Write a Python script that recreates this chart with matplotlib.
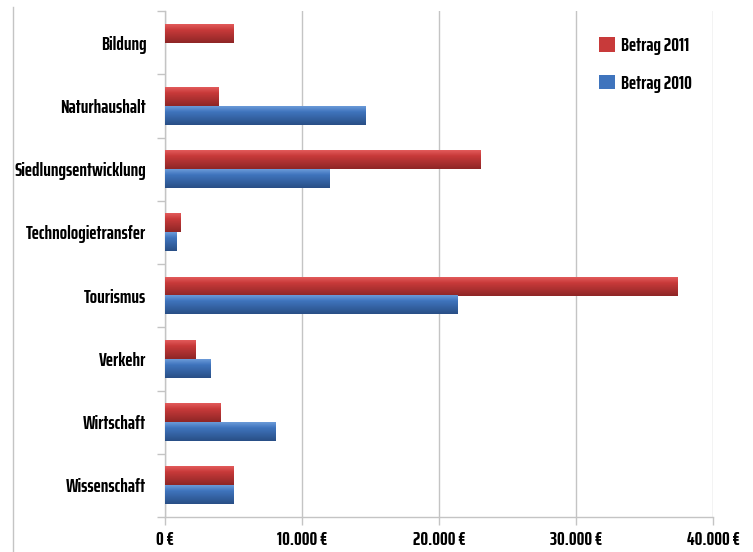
import numpy as np
from matplotlib import pyplot as plt
from matplotlib import font_manager
from matplotlib.ft2font import FT2Font
from matplotlib.font_manager import FontProperties
from matplotlib.lines import Line2D
from matplotlib.patches import Patch
from matplotlib.colors import to_rgb

categories = ["Bildung", "Naturhaushalt", "Siedlungsentwicklung", "Technologietransfer",
              "Tourismus", "Verkehr", "Wirtschaft", "Wissenschaft"]
betrag_2011 = [5000, 3900, 23000, 1100, 37400, 2200, 4050, 5000]
betrag_2010 = [0, 14650, 12000, 850, 21350, 3350, 8050, 5000]
x_ticks = [0, 10000, 20000, 30000, 40000]
series_labels = ["Betrag 2011", "Betrag 2010"]

GRID = "#c4c4c4"

# light top, base, dark bottom for the glossy look
RED = ["#e25a5a", "#c83a3a", "#8e2626"]
BLUE = ["#6a9ad8", "#3f74bd", "#294f86"]

tick_labels = [f"{v:,.0f} €".replace(",", ".") for v in x_ticks]
needed = set("".join(categories + tick_labels + series_labels)) - {" "}

fig = plt.figure(figsize=(7.53, 5.52), dpi=100)
renderer = fig.canvas.get_renderer()


def text_width(fp, s="Siedlungsentwicklung", size=10):
    t = fig.text(0, 0, s, fontproperties=fp, fontsize=size)
    w = t.get_window_extent(renderer).width
    t.remove()
    return w


def usable(fname):
    """Proportional face that has every glyph we draw."""
    try:
        font = FT2Font(fname)
        cmap = font.get_charmap()
    except Exception:
        return False
    if not all(ord(c) in cmap for c in needed):
        return False
    fp = FontProperties(fname=fname)
    return abs(text_width(fp, "iiii") - text_width(fp, "WWWW")) > 1


def pick_font():
    """Pick the narrowest bold condensed sans; fall back to DejaVu Sans bold."""
    best = FontProperties(family="DejaVu Sans", weight="bold")
    best_w = text_width(best)
    for f in font_manager.fontManager.ttflist:
        name = f.name.lower()
        cond = ("narrow" in name or "condensed" in name
                or str(f.stretch) in ("condensed", "semi-condensed",
                                      "extra-condensed", "ultra-condensed"))
        if not cond or "mono" in name or f.style != "normal":
            continue
        if f.weight not in ("bold", 700, "heavy", 800, "black", 900, "extra bold"):
            continue
        if not usable(f.fname):
            continue
        fp = FontProperties(fname=f.fname)
        w = text_width(fp)
        if w < best_w:
            best, best_w = fp, w
    return best, best_w


fp, w10 = pick_font()
# size the label font so the longest category fits left of the axis
FS = min(17.0, 10 * 131 / w10)
fp.set_size(FS)


def gradient_fill(ax, patch, shades):
    """Paint a vertical gradient over a bar patch."""
    x0, y0 = patch.get_x(), patch.get_y()
    w, h = patch.get_width(), patch.get_height()
    if w <= 0:
        return
    top, mid, bot = [np.array(to_rgb(c)) for c in shades]
    t = np.linspace(0, 1, 40)[:, None]
    col = np.where(t < 0.3, top + (mid - top) * (t / 0.3),
                   mid + (bot - mid) * ((t - 0.3) / 0.7))
    img = col[:, None, :]
    # y axis is inverted, so the first row sits at y0 (upper edge on screen)
    ax.imshow(img, extent=(x0, x0 + w, y0 + h, y0), aspect="auto",
              interpolation="bilinear", zorder=3)
    patch.set_visible(False)


ax = fig.add_axes([165 / 753, 1 - 517 / 552, (713 - 165) / 753, (517 - 11) / 552])

y = np.arange(len(categories))
h = 0.295
bars11 = ax.barh(y - h / 2, betrag_2011, height=h, color=RED[1], zorder=3)
bars10 = ax.barh(y + h / 2, betrag_2010, height=h, color=BLUE[1], zorder=3)
for p in bars11:
    gradient_fill(ax, p, RED)
for p in bars10:
    gradient_fill(ax, p, BLUE)

ax.set_xlim(0, 40000)
ax.set_ylim(len(categories) - 0.5, -0.5)

ax.set_xticks(x_ticks)
ax.set_xticklabels(tick_labels, fontproperties=fp)
ax.set_yticks(y)
ax.set_yticklabels(categories, fontproperties=fp)
ax.set_yticks(np.arange(-0.5, len(categories)), minor=True)

ax.tick_params(axis="y", which="major", length=0, pad=13.5)
ax.tick_params(axis="y", which="minor", length=6, color=GRID, width=1)
ax.tick_params(axis="x", length=6, color=GRID, width=1, pad=4)

ax.grid(axis="x", color=GRID, lw=1, zorder=0)
for side in ("top", "right"):
    ax.spines[side].set_visible(False)
for side in ("left", "bottom"):
    ax.spines[side].set_color(GRID)
    ax.spines[side].set_linewidth(1)

handles = [Patch(facecolor=RED[1]), Patch(facecolor=BLUE[1])]
fig.legend(handles, series_labels, loc="upper left",
           bbox_to_anchor=(599 / 753, 1 - 37 / 552), bbox_transform=fig.transFigure,
           frameon=False, handlelength=0.8, handleheight=0.8, handletextpad=0.35,
           labelspacing=1.0, borderpad=0, borderaxespad=0, prop=fp)

# outer frame line on the left
fig.add_artist(Line2D([13 / 753, 13 / 753], [0, 1 - 7 / 552], color=GRID, lw=1))

fig.savefig("out.png", dpi=100)
